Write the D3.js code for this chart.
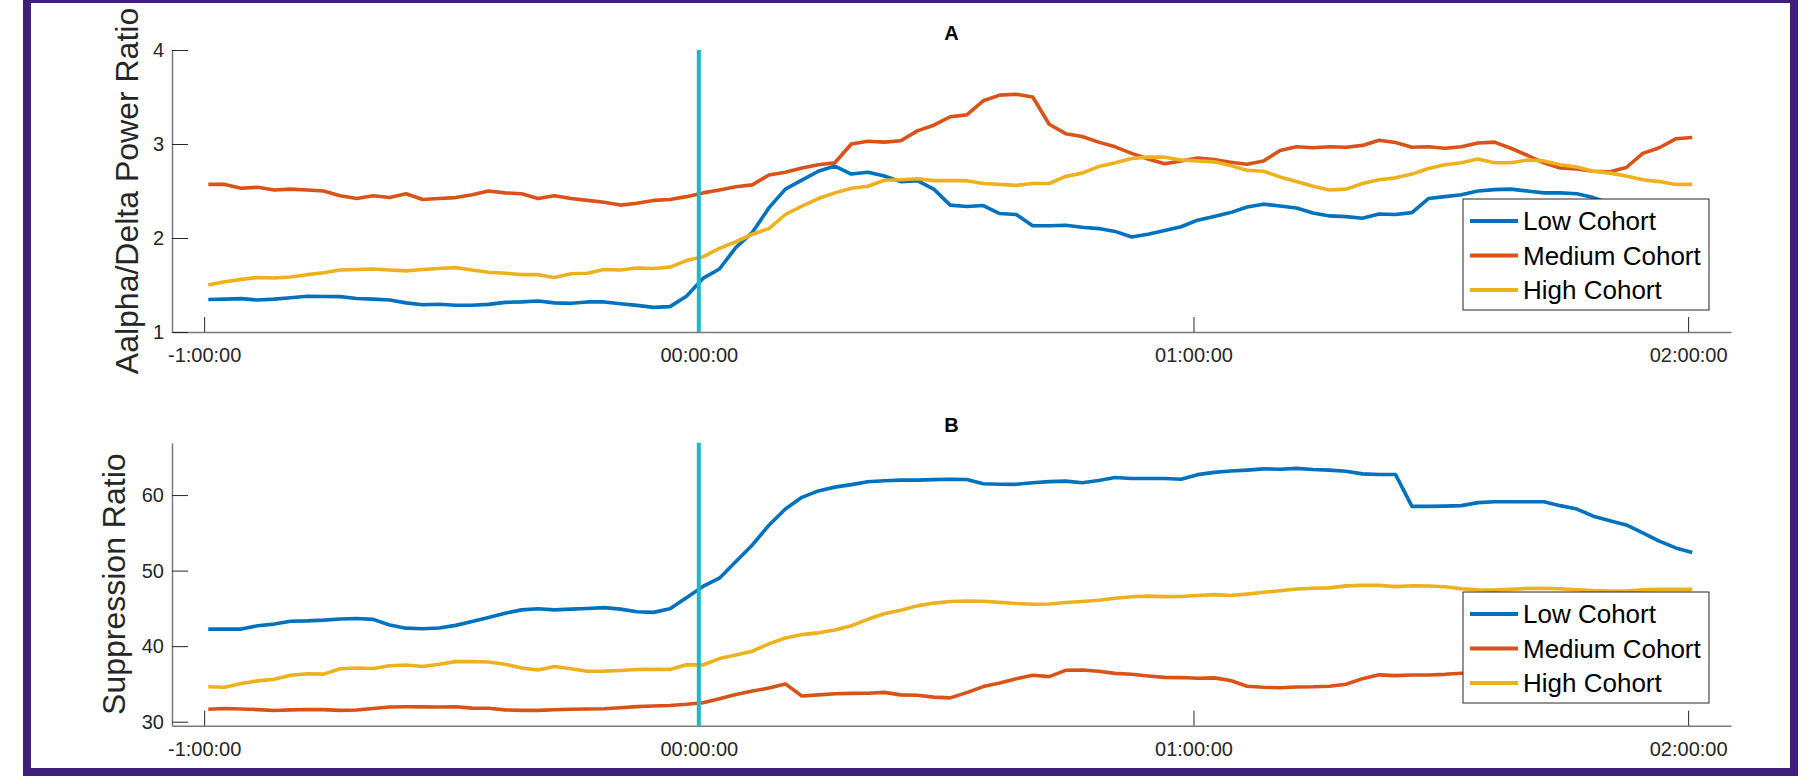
<!DOCTYPE html>
<html>
<head>
<meta charset="utf-8">
<script src="https://cdn.jsdelivr.net/npm/d3@7"></script>
<style>
  body { margin: 0; background: #fff; }
  svg { display: block; font-family: "Liberation Sans", Arial, sans-serif; }
</style>
</head>
<body>
<div id="chart-area"></div>
<script>

var width = 1805,
    height = 779;

// minutes relative to event (00:00:00)
var minutes = [-59.5,-57.5,-55.5,-53.5,-51.5,-49.5,-47.5,-45.5,-43.5,-41.5,-39.5,-37.5,-35.5,-33.5,-31.5,-29.5,
  -27.5,-25.5,-23.5,-21.5,-19.5,-17.5,-15.5,-13.5,-11.5,-9.5,-7.5,-5.5,-3.5,-1.5,0.5,
  2.5,4.5,6.5,8.5,10.5,12.5,14.5,16.5,18.5,20.5,22.5,24.5,26.5,28.5,30.5,32.5,34.5,36.5,38.5,40.5,
  42.5,44.5,46.5,48.5,50.5,52.5,54.5,56.5,58.5,60.5,62.5,
  64.5,66.5,68.5,70.5,72.5,74.5,76.5,78.5,80.5,82.5,84.5,86.5,88.5,90.5,92.5,94.5,96.5,98.5,100.5,
  102.5,104.5,106.5,108.5,110.5,112.5,114.5,116.5,118.5,120.5];

// panel A: alpha/delta power ratio
var lowA = [1.345,1.35,1.355,1.34,1.35,1.365,1.38,1.377,1.376,1.357,1.35,1.34,1.31,1.29,1.295,1.285,
  1.285,1.294,1.315,1.32,1.33,1.31,1.305,1.32,1.32,1.30,1.283,1.262,1.27,1.38,1.57,
  1.67,1.90,2.06,2.32,2.52,2.615,2.71,2.765,2.68,2.70,2.66,2.60,2.61,2.52,2.35,2.335,2.345,2.26,2.25,2.13,
  2.13,2.135,2.115,2.10,2.07,2.01,2.04,2.08,2.12,2.19,2.23,
  2.27,2.33,2.36,2.34,2.32,2.265,2.235,2.227,2.21,2.255,2.25,2.27,2.42,2.44,2.46,2.50,2.515,2.52,2.50,
  2.48,2.48,2.47,2.43,2.37,2.30,2.24,2.19,2.15,2.12];
var mediumA = [2.57,2.57,2.53,2.54,2.51,2.52,2.51,2.50,2.45,2.42,2.45,2.43,2.47,2.41,2.42,2.43,
  2.46,2.50,2.48,2.47,2.42,2.45,2.42,2.40,2.38,2.35,2.37,2.40,2.41,2.44,2.48,
  2.51,2.545,2.565,2.67,2.70,2.745,2.78,2.80,3.00,3.03,3.02,3.035,3.14,3.20,3.29,3.31,3.46,3.52,3.53,3.50,
  3.21,3.11,3.08,3.02,2.97,2.90,2.84,2.79,2.82,2.85,2.835,
  2.805,2.785,2.82,2.93,2.97,2.96,2.97,2.965,2.985,3.04,3.015,2.965,2.97,2.955,2.97,3.01,3.02,2.955,2.88,
  2.80,2.745,2.735,2.71,2.705,2.75,2.90,2.96,3.055,3.07];
var highA = [1.50,1.535,1.56,1.58,1.575,1.585,1.61,1.63,1.66,1.665,1.67,1.66,1.65,1.665,1.675,1.685,
  1.66,1.635,1.625,1.61,1.61,1.58,1.62,1.625,1.665,1.66,1.68,1.675,1.69,1.76,1.80,
  1.89,1.96,2.04,2.10,2.25,2.34,2.42,2.48,2.53,2.55,2.615,2.62,2.63,2.61,2.61,2.61,2.58,2.57,2.56,2.58,
  2.58,2.655,2.69,2.76,2.80,2.845,2.86,2.86,2.83,2.82,2.81,
  2.77,2.72,2.71,2.65,2.60,2.55,2.51,2.52,2.58,2.62,2.64,2.68,2.74,2.78,2.80,2.84,2.80,2.80,2.83,
  2.82,2.78,2.755,2.71,2.69,2.66,2.62,2.60,2.57,2.57];

// panel B: suppression ratio
var lowB = [42.26,42.26,42.26,42.7,42.92,43.3,43.35,43.45,43.6,43.65,43.55,42.8,42.38,42.31,42.4,42.75,
  43.25,43.8,44.35,44.8,44.95,44.8,44.9,44.98,45.1,44.9,44.55,44.47,44.95,46.4,47.9,
  49.0,51.2,53.4,56.0,58.15,59.7,60.55,61.05,61.38,61.77,61.9,61.98,61.98,62.04,62.09,62.05,61.5,61.44,61.42,61.63,
  61.78,61.84,61.62,61.93,62.32,62.2,62.2,62.19,62.1,62.7,63.0,
  63.18,63.3,63.46,63.42,63.53,63.38,63.3,63.15,62.8,62.73,62.73,58.5,58.5,58.54,58.6,59.0,59.11,59.11,59.11,
  59.11,58.6,58.15,57.2,56.6,56.05,55.0,53.9,53.0,52.4];
var mediumB = [31.65,31.75,31.68,31.6,31.48,31.57,31.62,31.6,31.5,31.55,31.75,31.94,31.97,31.96,31.94,31.97,
  31.8,31.77,31.56,31.5,31.5,31.58,31.64,31.68,31.72,31.85,31.99,32.07,32.15,32.3,32.5,
  33.05,33.6,34.05,34.45,35.0,33.4,33.55,33.7,33.75,33.77,33.88,33.55,33.5,33.25,33.15,33.85,34.65,35.13,35.67,36.15,
  35.97,36.8,36.85,36.68,36.4,36.27,36.05,35.87,35.84,35.75,35.8,
  35.45,34.7,34.55,34.5,34.6,34.62,34.7,34.95,35.7,36.2,36.1,36.18,36.18,36.27,36.42,36.5,36.5,36.4,36.4,
  36.5,36.6,36.6,36.5,36.5,36.4,36.4,36.3,36.3,36.3];
var highB = [34.63,34.55,35.05,35.4,35.62,36.15,36.35,36.3,37.0,37.1,37.05,37.4,37.5,37.3,37.6,37.95,
  37.95,37.9,37.6,37.1,36.84,37.3,37.0,36.68,36.7,36.78,36.9,36.93,36.9,37.55,37.5,
  38.35,38.82,39.33,40.3,41.07,41.53,41.76,42.15,42.7,43.55,44.28,44.76,45.33,45.7,45.92,45.98,45.95,45.8,45.64,45.54,
  45.57,45.77,45.92,46.08,46.34,46.54,46.62,46.55,46.57,46.7,46.82,
  46.7,46.89,47.13,47.33,47.57,47.67,47.71,47.98,48.04,48.04,47.88,47.99,47.96,47.87,47.6,47.46,47.42,47.51,47.64,
  47.66,47.6,47.47,47.35,47.28,47.3,47.45,47.51,47.51,47.51];

var cohorts = ["Low Cohort", "Medium Cohort", "High Cohort"];
var colors = ["#0072BD", "#D95319", "#EDB120"];
var timeTicks = [-60, 0, 60, 120];
var timeLabels = ["-1:00:00", "00:00:00", "01:00:00", "02:00:00"];
var ticksA = [1, 2, 3, 4];
var ticksB = [30, 40, 50, 60];

var svg = d3.select("#chart-area").append("svg")
    .attr("width", width)
    .attr("height", height);

// purple frame round the figure
svg.append("rect")
    .attr("x", 27).attr("y", -1)
    .attr("width", 1767).attr("height", 773)
    .attr("fill", "#fff")
    .attr("stroke", "#3e1f79")
    .attr("stroke-width", 8);

var x = d3.scaleLinear().domain([-63.9, 125.2]).range([172, 1731]);

var panels = [
  { title: "A", titleY: 40, yLabel: "Aalpha/Delta Power Ratio", labelX: 138,
    series: [lowA, mediumA, highA], yDomain: [1, 4], yRange: [332, 50], ticks: ticksA, legendY: 199 },
  { title: "B", titleY: 432, yLabel: "Suppression Ratio", labelX: 125,
    series: [lowB, mediumB, highB], yDomain: [29.47, 66.93], yRange: [725.7, 442.7], ticks: ticksB, legendY: 592 }
];

panels.forEach(drawPanel);

function drawPanel(p) {
  var y = d3.scaleLinear().domain(p.yDomain).range(p.yRange);
  var g = svg.append("g");
  var bottom = p.yRange[0];

  // axes, ticks pointing inward like matlab
  var gx = g.append("g")
      .attr("transform", "translate(0," + bottom + ")")
      .call(d3.axisBottom(x)
        .tickValues(timeTicks)
        .tickFormat(function(d, i) { return timeLabels[i]; })
        .tickSizeInner(-15).tickSizeOuter(0).tickPadding(16));

  var gy = g.append("g")
      .attr("transform", "translate(" + x.range()[0] + ",0)")
      .call(d3.axisLeft(y)
        .tickValues(p.ticks)
        .tickFormat(d3.format("d"))
        .tickSizeInner(-16).tickSizeOuter(0).tickPadding(8));

  [gx, gy].forEach(function(a) {
    a.attr("font-family", null).attr("font-size", null);
    a.select(".domain").attr("stroke", "#7a7a7a").attr("stroke-width", 1.5);
    a.selectAll(".tick line").attr("stroke", "#262626");
    a.selectAll(".tick text").attr("fill", "#262626").style("font-size", "20px");
  });

  // data lines
  var line = d3.line()
      .x(function(d, i) { return x(minutes[i]); })
      .y(function(d) { return y(d); });

  g.selectAll(".series")
      .data(p.series)
      .enter()
      .append("path")
      .attr("class", "series")
      .attr("d", line)
      .attr("fill", "none")
      .attr("stroke", function(d, i) { return colors[i]; })
      .attr("stroke-width", 3.6)
      .attr("stroke-linejoin", "round");

  // event marker at 00:00:00
  g.append("line")
      .attr("x1", x(0)).attr("x2", x(0))
      .attr("y1", p.yRange[1]).attr("y2", bottom)
      .attr("stroke", "#15bacd")
      .attr("stroke-width", 4);

  // title
  g.append("text")
      .attr("x", (x.range()[0] + x.range()[1]) / 2)
      .attr("y", p.titleY)
      .attr("text-anchor", "middle")
      .style("font-size", "20px")
      .style("font-weight", "bold")
      .text(p.title);

  // y label
  g.append("text")
      .attr("transform", "translate(" + p.labelX + "," + (p.yRange[0] + p.yRange[1]) / 2 + ") rotate(-90)")
      .attr("text-anchor", "middle")
      .attr("fill", "#262626")
      .style("font-size", "32px")
      .text(p.yLabel);

  // legend
  var lg = g.append("g").attr("transform", "translate(1463," + p.legendY + ")");
  lg.append("rect")
      .attr("width", 246).attr("height", 111)
      .attr("fill", "#fff")
      .attr("stroke", "#262626")
      .attr("stroke-width", 1);

  var item = lg.selectAll(".item")
      .data(cohorts)
      .enter()
      .append("g")
      .attr("class", "item")
      .attr("transform", function(d, i) { return "translate(0," + (22 + i * 34.5) + ")"; });

  item.append("line")
      .attr("x1", 7).attr("x2", 55)
      .attr("stroke", function(d, i) { return colors[i]; })
      .attr("stroke-width", 4);

  item.append("text")
      .attr("x", 60)
      .attr("dy", "0.36em")
      .attr("fill", "#000")
      .style("font-size", "26px")
      .text(function(d) { return d; });
}

</script>
</body>
</html>
